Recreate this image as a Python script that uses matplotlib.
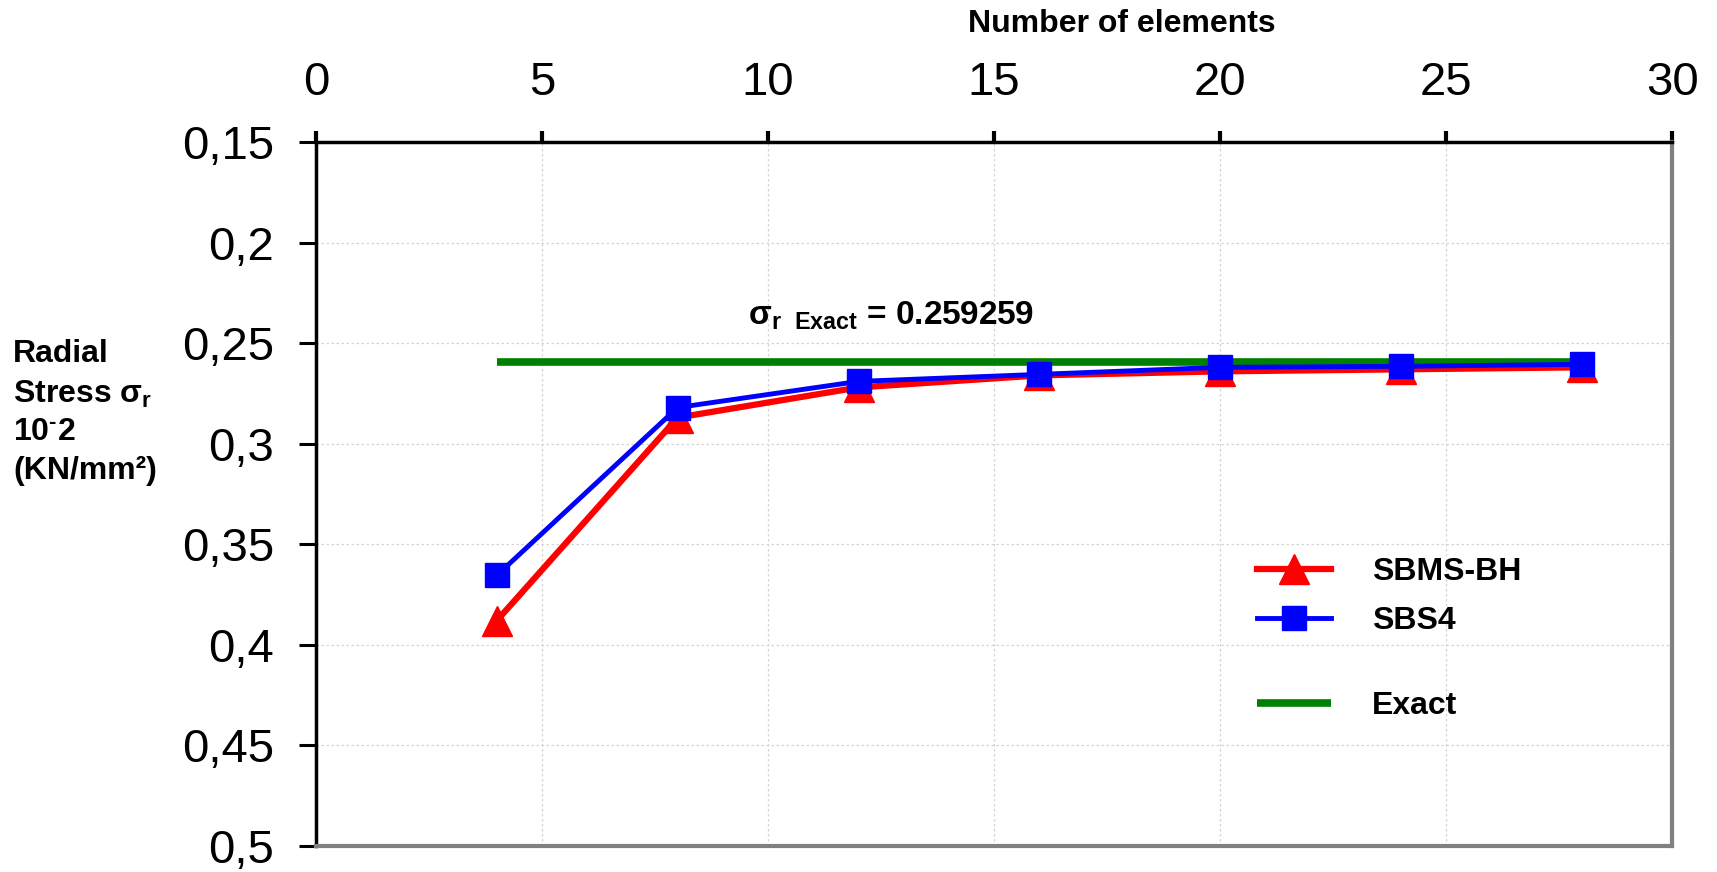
import matplotlib
matplotlib.use("Agg")
import matplotlib.pyplot as plt
import numpy as np
from matplotlib.legend_handler import HandlerLine2D

plt.rcParams['font.family'] = ['Liberation Sans', 'DejaVu Sans']
plt.rcParams['mathtext.fontset'] = 'custom'
plt.rcParams['mathtext.rm'] = 'Liberation Sans:bold'
plt.rcParams['mathtext.bf'] = 'Liberation Sans:bold'
plt.rcParams['mathtext.it'] = 'Liberation Sans:bold'
plt.rcParams['mathtext.default'] = 'bf'

# data
elements = [4, 8, 12, 16, 20, 24, 28]
sbms_bh = [0.388, 0.287, 0.272, 0.266, 0.264, 0.263, 0.262]
sbs4 = [0.3655, 0.282, 0.269, 0.2655, 0.262, 0.2615, 0.2605]
exact_x = [4, 28]
exact_val = 0.259259

xticks = [0, 5, 10, 15, 20, 25, 30]
yticks = [0.15, 0.2, 0.25, 0.3, 0.35, 0.4, 0.45, 0.5]
ytick_labels = ["0,15", "0,2", "0,25", "0,3", "0,35", "0,4", "0,45", "0,5"]


class EndMarker(HandlerLine2D):
    # legend marker sits near the right end of the line, as in the original
    def get_xdata(self, legend, xdescent, ydescent, width, height, fontsize):
        xdata = np.array([-xdescent, -xdescent + width * 0.8])
        return xdata, np.array([-xdescent + width * 0.7])


fig = plt.figure(figsize=(17.17, 8.72), dpi=100)
ax = fig.add_axes([0.184, 0.030, 0.790, 0.807])

l_ex, = ax.plot(exact_x, [exact_val, exact_val], color='#008000', lw=5.5,
                solid_capstyle='butt', label='Exact', zorder=2)
l_red, = ax.plot(elements, sbms_bh, color='#ff0000', lw=4.5, marker='^',
                 ms=21, label='SBMS-BH', zorder=3)
l_blue, = ax.plot(elements, sbs4, color='#0000ff', lw=3.5, marker='s',
                  ms=17, label='SBS4', zorder=4)

ax.set_xlim(0, 30)
ax.set_ylim(0.5, 0.15)
ax.xaxis.tick_top()
ax.set_xticks(xticks)
ax.set_yticks(yticks)
ax.set_yticklabels(ytick_labels)
ax.tick_params(axis='x', direction='out', length=8, width=3, pad=19,
               labelsize=34, top=True, bottom=False)
ax.tick_params(axis='y', direction='out', length=12, width=2.2, pad=18,
               labelsize=34)

ax.grid(True, color='#d4d4d4', linestyle=(0, (2, 2)), lw=0.9)
ax.set_axisbelow(True)

for s in ['top', 'left']:
    ax.spines[s].set_linewidth(2.5)
    ax.spines[s].set_color('black')
for s in ['bottom', 'right']:
    ax.spines[s].set_linewidth(3)
    ax.spines[s].set_color('#808080')

ax.text(9.55, 0.2365, r'$σ_{r\ \ Exact}$ = 0.259259', fontsize=24,
        fontweight='bold', ha='left', va='center')

fig.text(1122 / 1717, 1 - 24 / 872, 'Number of elements', fontsize=23,
         fontweight='bold', ha='center', va='center')

ylab = ['Radial', r'Stress $σ_r$', r'10$^{\text{-}}$2', '(KN/mm²)']
ylab_y = [354, 394, 432, 471]
for t, yy in zip(ylab, ylab_y):
    fig.text(13 / 1717, 1 - yy / 872, t, fontsize=23, fontweight='bold',
             ha='left', va='center')

leg1 = ax.legend(handles=[l_red, l_blue], loc='upper left',
                 bbox_to_anchor=(1228 / 1717, 1 - 528 / 872),
                 bbox_transform=fig.transFigure, frameon=False,
                 prop={'size': 23, 'weight': 'bold'}, handlelength=2.9,
                 handletextpad=0.7, labelspacing=0.6, numpoints=1,
                 handler_map={l_red: EndMarker(), l_blue: EndMarker()})
ax.add_artist(leg1)
ax.legend(handles=[l_ex], loc='upper left',
          bbox_to_anchor=(1228 / 1717, 1 - 662 / 872),
          bbox_transform=fig.transFigure, frameon=False,
          prop={'size': 23, 'weight': 'bold'}, handlelength=2.9,
          handletextpad=0.7,
          handler_map={l_ex: EndMarker()})

fig.savefig('out.png', dpi=100)
